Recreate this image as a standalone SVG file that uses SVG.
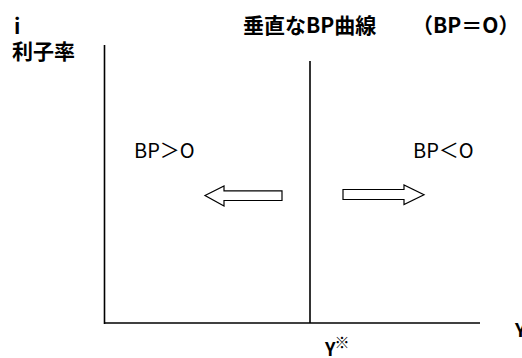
<svg xmlns="http://www.w3.org/2000/svg" width="522" height="358" viewBox="0 0 522 358">
<style>
.t{font-family:"Noto Sans CJK JP","Noto Sans",sans-serif;fill:#000}
.b{font-weight:bold}
.ax{stroke:#000;stroke-width:1.6;fill:none}
.ar{stroke:#000;stroke-width:1.2;fill:#fff;stroke-linejoin:miter}
</style>
<rect width="522" height="358" fill="#fff"/>
<g id="axes">
<line class="ax" x1="104.5" y1="45" x2="104.5" y2="324"/>
<line class="ax" x1="104" y1="323" x2="480" y2="323"/>
</g>
<g id="bp-curve">
<line class="ax" x1="310" y1="61" x2="310" y2="323"/>
</g>
<g id="arrow-left">
<polygon class="ar" points="205,195.5 224,186 224,190.8 282,190.8 282,200.5 224,200.5 224,206"/>
</g>
<g id="arrow-right">
<polygon class="ar" points="343,189.5 404,189.5 404,185 424,194.8 404,204.5 404,199.5 343,199.5"/>
</g>
<g id="labels">
<text class="t b" x="14" y="34" font-size="21">i</text>
<text class="t b" x="12" y="59" font-size="21">利子率</text>
<text class="t b" x="243" y="33" font-size="21">垂直なBP曲線</text>
<text class="t b" x="412" y="33" font-size="21">（BP＝O）</text>
<text class="t" x="134" y="158" font-size="20">BP＞O</text>
<text class="t" x="413" y="158" font-size="20">BP＜O</text>
<text class="t b" x="325" y="356" font-size="18">Y<tspan font-size="15" dy="-8" dx="-1">※</tspan></text>
<text class="t b" x="515" y="337" font-size="19">Y</text>
</g>
</svg>
